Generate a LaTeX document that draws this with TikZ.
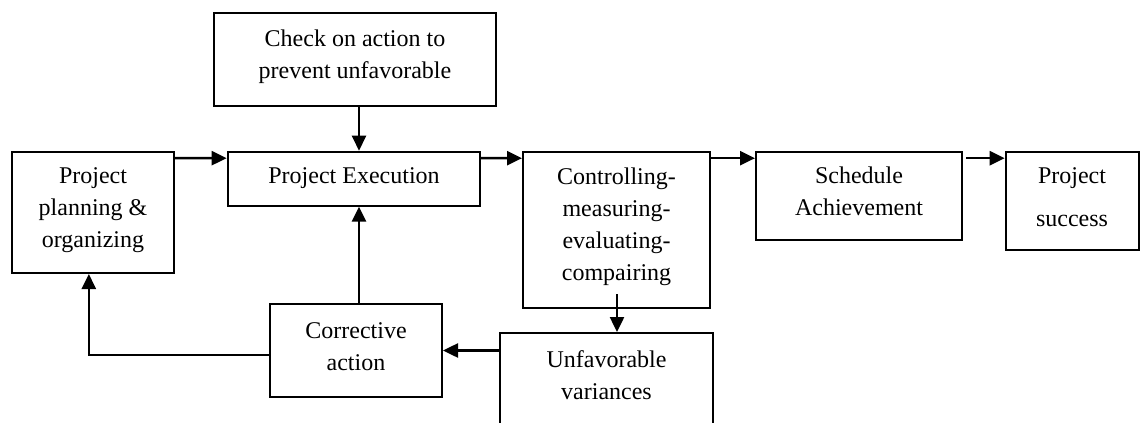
\documentclass[tikz,border=0pt]{standalone}
\usepackage{fontspec}
\setmainfont{Liberation Serif}
\usetikzlibrary{arrows.meta,calc}
\begin{document}
\begin{tikzpicture}[x=1pt,y=-1pt,
  box/.style={draw, line width=2pt, inner sep=0pt, rectangle},
  lbl/.style={inner sep=0pt, anchor=north, align=center, font=\fontsize{24}{32}\selectfont},
  conn/.style={line width=2.5pt, -{Triangle[length=15pt,width=14pt]}}]
\clip (0,0) rectangle (1141,423);
% boxes
\node[box, minimum width=282pt, minimum height=93pt] (check) at (355,59.5) {};
\node[box, minimum width=162.3pt, minimum height=121.5pt] (plan) at (92.85,212.25) {};
\node[box, minimum width=252.3pt, minimum height=54pt] (exec) at (353.85,178.7) {};
\node[box, minimum width=187pt, minimum height=156.3pt] (ctrl) at (616.5,229.85) {};
\node[box, minimum width=206pt, minimum height=88.3pt] (sched) at (859,195.85) {};
\node[box, minimum width=133.3pt, minimum height=98.3pt] (succ) at (1072.35,200.85) {};
\node[box, minimum width=172pt, minimum height=93pt] (corr) at (356,350.5) {};
\node[box, minimum width=213pt, minimum height=112pt] (unfav) at (606.5,389) {};
% texts
\node[lbl] (tcheck) at (355,23.6) {\strut Check on action to\\\strut prevent unfavorable};
\node[lbl] (tplan) at (93,160.6) {\strut Project\\\strut planning \&\\\strut organizing};
\node[lbl] (texec) at (354,160.6) {\strut Project Execution};
\node[lbl] (tctrl) at (616.5,161.6) {\strut Controlling-\\\strut measuring-\\\strut evaluating-\\\strut compairing};
\node[lbl] (tsched) at (859,160.6) {\strut Schedule\\\strut Achievement};
\node[lbl] (tsucc) at (1072,160.6) {\strut Project\\[11pt]\strut success};
\node[lbl] (tcorr) at (356,315.6) {\strut Corrective\\\strut action};
\node[lbl] (tunfav) at (606.5,344.6) {\strut Unfavorable\\\strut variances};
% connectors
\draw[conn] ($(plan.north east)+(0,7.5)$) -- ($(exec.north west)+(0,7.5)$);
\draw[conn] ($(exec.north east)+(0,7.5)$) -- ($(ctrl.north west)+(0,7.5)$);
\draw[conn] ($(ctrl.north east)+(0,7.5)$) -- ($(sched.north west)+(0,7.5)$);
\draw[conn] ($(sched.north east)+(3,7.5)$) -- ($(succ.north west)+(0,7.5)$);
\coordinate (c1) at ($(check.south)+(4,0)$);
\draw[conn] (c1) -- (c1 |- exec.north);
\coordinate (c2) at ($(corr.north)+(3,0)$);
\draw[conn] (c2) -- (c2 |- exec.south);
\coordinate (c3) at ($(corr.west)+(0,4.5)$);
\coordinate (c4) at ($(plan.south)+(-4,0)$);
\draw[conn] (c3) -| (c4);
\draw[conn] (unfav.west |- corr.east) -- (corr.east);
\coordinate (c5) at ($(ctrl.south)+(0.5,-15)$);
\draw[conn] (c5) -- (c5 |- unfav.north);
\end{tikzpicture}
\end{document}
